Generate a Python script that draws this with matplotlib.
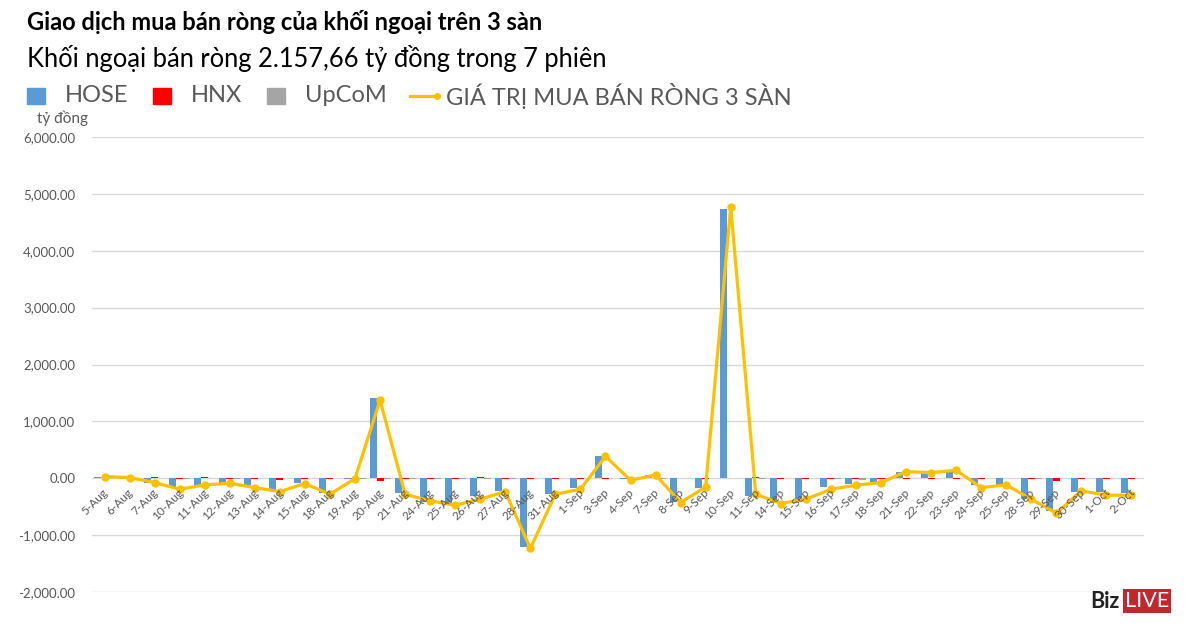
import numpy as np
import matplotlib
matplotlib.use('Agg')
import matplotlib.pyplot as plt
from matplotlib.patches import Rectangle
from matplotlib.lines import Line2D
from matplotlib.ticker import FuncFormatter

plt.rcParams['font.family'] = ['Lato', 'DejaVu Sans']

# Dữ liệu (tỷ đồng)
dates = ['5-Aug', '6-Aug', '7-Aug', '10-Aug', '11-Aug', '12-Aug', '13-Aug', '14-Aug',
         '15-Aug', '18-Aug', '19-Aug', '20-Aug', '21-Aug', '24-Aug', '25-Aug', '26-Aug',
         '27-Aug', '28-Aug', '31-Aug', '1-Sep', '3-Sep', '4-Sep', '7-Sep', '8-Sep',
         '9-Sep', '10-Sep', '11-Sep', '14-Sep', '15-Sep', '16-Sep', '17-Sep', '18-Sep',
         '21-Sep', '22-Sep', '23-Sep', '24-Sep', '25-Sep', '28-Sep', '29-Sep', '30-Sep',
         '1-Oct', '2-Oct']
hose = [25, -8, -75, -180, -115, -75, -115, -210, -75, -260, -10, 1410, -265, -415,
        -440, -310, -220, -1215, -270, -180, 390, -10, 50, -425, -165, 4740, -310,
        -415, -400, -155, -95, -65, 110, 100, 110, -120, -120, -365, -575, -235, -250, -265]
hnx = [5, -3, 15, -15, 15, -10, -20, -25, -15, -10, -5, -50, -10, -10, -10, 15, -10,
       -10, -10, -10, -10, -5, 10, 10, -5, 10, 15, -20, -10, -10, -20, -15, -15, -10,
       -10, -20, 10, -15, -40, -10, -15, -10]
upcom = [0, 0, 0, -5, 0, -5, 0, 0, 0, 0, -5, -5, -10, -5, -10, -15, -5, 0, 0, 0, 0, 0,
         -5, 0, 0, 5, -5, 0, 0, -10, -25, -5, 0, 0, 0, 0, 0, -5, 10, 0, 0, 0]
tong = [30, 12, -75, -193, -117, -88, -164, -234, -94, -281, -6, 1374, -281, -398,
        -474, -368, -234, -1234, -281, -193, 386, -35, 58, -427, -152, 4777, -281,
        -444, -368, -193, -123, -76, 117, 99, 140, -164, -117, -368, -614, -222, -298, -298]

c_hose = '#5B9BD5'
c_hnx = '#FF0000'
c_upcom = '#A5A5A5'
c_line = '#FFC000'
c_text = '#595959'

fig = plt.figure(figsize=(12, 6.26), dpi=100)
ax = fig.add_axes([92 / 1200, 1 - 592 / 626, 1052 / 1200, (592 - 137) / 626])

x = np.arange(len(dates))
w = 0.28
ax.bar(x - w, hose, w, color=c_hose, zorder=2)
ax.bar(x, hnx, w, color=c_hnx, zorder=2)
ax.bar(x + w, upcom, w, color=c_upcom, zorder=2)
ax.plot(x, tong, color=c_line, lw=2.3, marker='o', ms=5, zorder=3)

ax.set_ylim(-2000, 6000)
ax.set_xlim(-0.5, len(dates) - 0.5)
ax.set_yticks(np.arange(-2000, 6001, 1000))
ax.yaxis.set_major_formatter(FuncFormatter(lambda v, p: '{:,.2f}'.format(v)))
ax.tick_params(axis='y', length=0, pad=12, labelsize=9.5, labelcolor=c_text)
ax.set_xticks([])
ax.grid(axis='y', color='#D9D9D9', lw=1, zorder=0)
for s in ax.spines.values():
    s.set_visible(False)

# Nhãn ngày nằm cạnh trục 0
for i, d in enumerate(dates):
    ax.annotate(d, (i, 0), xytext=(4, -6), textcoords='offset points',
                rotation=45, ha='right', va='top', fontsize=8.5, color=c_text)

# Tiêu đề
fig.text(27 / 1200, 1 - 22 / 626, 'Giao dịch mua bán ròng của khối ngoại trên 3 sàn',
         fontsize=17, fontweight='bold', color='black', va='center')
fig.text(27 / 1200, 1 - 59 / 626, 'Khối ngoại bán ròng 2.157,66 tỷ đồng trong 7 phiên',
         fontsize=18.4, color='black', va='center')

# Chú thích
ly = 1 - 96 / 626
sq_w, sq_h = 18 / 1200, 16 / 626
items = [(27, c_hose, 'HOSE'), (153, c_hnx, 'HNX'), (267, c_upcom, 'UpCoM')]
for px, col, lab in items:
    fig.patches.append(Rectangle((px / 1200, ly - sq_h / 2), sq_w, sq_h,
                                 color=col, transform=fig.transFigure))
    fig.text((px + 38) / 1200, ly, lab, fontsize=17, color=c_text, va='center')
fig.lines.append(Line2D([410 / 1200, 437 / 1200], [ly, ly], color=c_line, lw=2.3,
                        marker='o', ms=4, markevery=[1], transform=fig.transFigure))
fig.text(446 / 1200, ly, 'GIÁ TRỊ MUA BÁN RÒNG 3 SÀN', fontsize=17, color=c_text, va='center')
fig.text(37 / 1200, 1 - 118 / 626, 'tỷ đồng', fontsize=11, color=c_text, va='center')

# Logo
fig.text(1119 / 1200, 1 - 601 / 626, 'Biz', fontsize=15.5, fontweight='bold',
         color='#222222', ha='right', va='center')
fig.text(1125 / 1200, 1 - 601 / 626, 'LIVE', fontsize=15.5, color='white', va='center',
         bbox=dict(boxstyle='square,pad=0.1', fc='#C1272D', ec='none'))

fig.savefig('out.png', dpi=100)
